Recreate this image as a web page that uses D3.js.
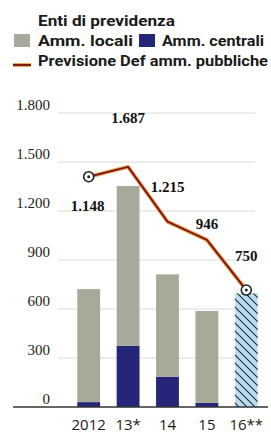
<!DOCTYPE html>
<html>
<head>
<meta charset="utf-8">
<script src="https://cdn.jsdelivr.net/npm/d3@7"></script>
<style>
  body { margin: 0; background: #fff; }
  svg { display: block; }
</style>
</head>
<body>
<svg id="chart"></svg>
<script>
// chart data
const years = ["2012", "13*", "14", "15", "16**"];
const centrali = [30, 375, 186, 26, 0];
const locali = [692, 978, 626, 562, 0];
const enti = [0, 0, 0, 0, 696];
const previsione = [1410, 1470, 1135, 1023, 716];
const valueLabels = ["1.148", "1.687", "1.215", "946", "750"];
const yTicks = [0, 300, 600, 900, 1200, 1500, 1800];

// label offsets from the line points (layout only)
const labelDy = [34, -44, -30, -11, -29];

const width = 271, height = 433;

const svg = d3.select("#chart")
  .attr("width", width)
  .attr("height", height);

const x = d3.scaleBand()
  .domain(years)
  .range([69, 266])
  .paddingInner(0.42)
  .paddingOuter(0.21);

const y = d3.scaleLinear()
  .domain([0, 1800])
  .range([407, 113]);

// hatch for Enti di previdenza
const defs = svg.append("defs");
const hatch = defs.append("pattern")
  .attr("id", "hatch")
  .attr("patternUnits", "userSpaceOnUse")
  .attr("width", 8)
  .attr("height", 8);
hatch.append("rect").attr("width", 8).attr("height", 8).attr("fill", "#bcdcee");
hatch.append("path")
  .attr("d", "M-2,-2L10,10M-2,6L2,10M6,-2L10,2")
  .attr("stroke", "#1e2d3c")
  .attr("stroke-width", 1.1);

// gridlines
svg.append("g")
  .selectAll("line")
  .data(yTicks.filter(d => d > 0))
  .join("line")
  .attr("x1", 58)
  .attr("x2", 255)
  .attr("y1", d => y(d))
  .attr("y2", d => y(d))
  .attr("stroke", "#dadada")
  .attr("stroke-width", 1);

// y tick labels
svg.append("g")
  .selectAll("text")
  .data(yTicks)
  .join("text")
  .attr("x", 50)
  .attr("y", d => y(d) - 3)
  .attr("text-anchor", "end")
  .attr("font-family", "Liberation Serif, serif")
  .attr("font-size", 15)
  .attr("fill", "#222")
  .text(d => d3.format(",")(d).replace(/,/g, "."));

// bars
const bars = svg.append("g");
years.forEach((yr, i) => {
  const bx = x(yr), bw = x.bandwidth();
  if (centrali[i] > 0) {
    bars.append("rect")
      .attr("x", bx).attr("width", bw)
      .attr("y", y(centrali[i])).attr("height", y(0) - y(centrali[i]))
      .attr("fill", "#25257a");
  }
  if (locali[i] > 0) {
    bars.append("rect")
      .attr("x", bx).attr("width", bw)
      .attr("y", y(centrali[i] + locali[i])).attr("height", y(centrali[i]) - y(centrali[i] + locali[i]))
      .attr("fill", "#a8a999");
  }
  if (enti[i] > 0) {
    bars.append("rect")
      .attr("x", bx).attr("width", bw)
      .attr("y", y(enti[i])).attr("height", y(0) - y(enti[i]))
      .attr("fill", "url(#hatch)");
  }
});

// baseline
svg.append("line")
  .attr("x1", 13).attr("x2", 268)
  .attr("y1", y(0)).attr("y2", y(0))
  .attr("stroke", "#333")
  .attr("stroke-width", 1.5);

// x labels
svg.append("g")
  .selectAll("text")
  .data(years)
  .join("text")
  .attr("x", d => x(d) + x.bandwidth() / 2)
  .attr("y", 430)
  .attr("text-anchor", "middle")
  .attr("font-family", "Open Sans, sans-serif")
  .attr("font-size", 15)
  .attr("fill", "#1a1a1a")
  .text(d => d);

// forecast line
const pts = years.map((yr, i) => [x(yr) + x.bandwidth() / 2, y(previsione[i])]);
const line = d3.line();
svg.append("path")
  .attr("d", line(pts))
  .attr("fill", "none")
  .attr("stroke", "#f2a65a")
  .attr("stroke-width", 4)
  .attr("stroke-linejoin", "round");
svg.append("path")
  .attr("d", line(pts))
  .attr("fill", "none")
  .attr("stroke", "#7e1a14")
  .attr("stroke-width", 2)
  .attr("stroke-linejoin", "round");

// markers at the ends
[pts[0], pts[pts.length - 1]].forEach(p => {
  svg.append("circle")
    .attr("cx", p[0]).attr("cy", p[1]).attr("r", 5)
    .attr("fill", "#fff").attr("stroke", "#222").attr("stroke-width", 1.6);
  svg.append("circle")
    .attr("cx", p[0]).attr("cy", p[1]).attr("r", 1.5)
    .attr("fill", "#222");
});

// value labels
svg.append("g")
  .selectAll("text")
  .data(valueLabels)
  .join("text")
  .attr("x", (d, i) => pts[i][0] - (i === 0 ? 1 : 0))
  .attr("y", (d, i) => pts[i][1] + labelDy[i])
  .attr("text-anchor", "middle")
  .attr("font-family", "Liberation Serif, serif")
  .attr("font-weight", "bold")
  .attr("font-size", 15)
  .attr("fill", "#111")
  .text(d => d);

// legend
const legendFont = "Roboto, sans-serif";
const leg = svg.append("g")
  .attr("font-family", legendFont)
  .attr("font-weight", "bold")
  .attr("font-size", 15)
  .attr("fill", "#1a1a1a");

leg.append("text").attr("x", 38).attr("y", 26)
  .attr("textLength", 137).attr("lengthAdjust", "spacingAndGlyphs")
  .text("Enti di previdenza");

leg.append("rect").attr("x", 14).attr("y", 34).attr("width", 16).attr("height", 13)
  .attr("fill", "#a8a999");
leg.append("text").attr("x", 38).attr("y", 46)
  .attr("textLength", 95).attr("lengthAdjust", "spacingAndGlyphs")
  .text("Amm. locali");

leg.append("rect").attr("x", 139).attr("y", 34).attr("width", 16).attr("height", 13)
  .attr("fill", "#25257a");
leg.append("text").attr("x", 162).attr("y", 46)
  .attr("textLength", 102).attr("lengthAdjust", "spacingAndGlyphs")
  .text("Amm. centrali");

leg.append("line").attr("x1", 13).attr("x2", 31).attr("y1", 65).attr("y2", 65)
  .attr("stroke", "#f2a65a").attr("stroke-width", 4);
leg.append("line").attr("x1", 13).attr("x2", 31).attr("y1", 65).attr("y2", 65)
  .attr("stroke", "#7e1a14").attr("stroke-width", 2);
leg.append("text").attr("x", 38).attr("y", 66)
  .attr("textLength", 230).attr("lengthAdjust", "spacingAndGlyphs")
  .text("Previsione Def amm. pubbliche");
</script>
</body>
</html>
